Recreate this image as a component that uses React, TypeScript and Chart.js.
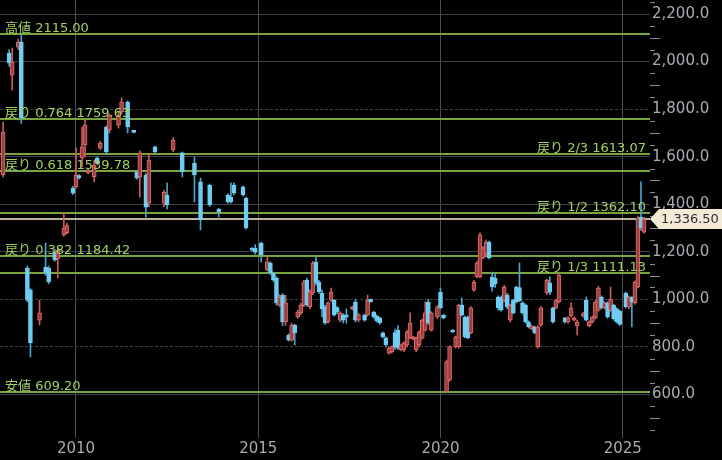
import React, { useEffect, useRef } from "react";
import { Chart, registerables } from "chart.js";

Chart.register(...registerables);

// ---- candle data (month, open, high, low, close) ----
const dates = [
  "2008-01", "2008-03", "2008-04", "2008-06", "2008-07", "2008-09", "2008-10",
  "2009-01", "2009-03", "2009-04", "2009-06", "2009-07", "2009-09", "2009-10", "2009-12",
  "2010-01", "2010-02", "2010-03", "2010-04", "2010-05", "2010-07", "2010-08", "2010-09", "2010-11", "2010-12",
  "2011-03", "2011-04", "2011-06", "2011-08", "2011-09", "2011-10", "2011-12",
  "2012-01", "2012-03", "2012-06", "2012-07", "2012-09", "2012-12",
  "2013-04", "2013-06", "2013-09", "2013-12",
  "2014-03", "2014-04", "2014-05", "2014-08", "2014-09", "2014-11", "2014-12",
  "2015-02", "2015-04", "2015-05", "2015-06", "2015-07", "2015-08", "2015-09", "2015-10", "2015-11", "2015-12",
  "2016-01", "2016-02", "2016-03", "2016-04", "2016-05", "2016-06", "2016-07", "2016-08", "2016-09", "2016-10", "2016-11", "2016-12",
  "2017-01", "2017-02", "2017-03", "2017-04", "2017-05", "2017-06", "2017-08", "2017-09", "2017-10", "2017-12",
  "2018-01", "2018-02", "2018-03", "2018-04", "2018-05", "2018-06", "2018-07", "2018-08", "2018-09", "2018-10", "2018-11", "2018-12",
  "2019-01", "2019-02", "2019-03", "2019-04", "2019-05", "2019-06", "2019-07", "2019-08", "2019-09", "2019-10", "2019-12",
  "2020-01", "2020-02", "2020-03", "2020-04", "2020-05", "2020-06", "2020-07", "2020-08", "2020-09", "2020-10", "2020-11", "2020-12",
  "2021-01", "2021-02", "2021-03", "2021-04", "2021-05", "2021-06", "2021-07", "2021-08", "2021-09", "2021-10", "2021-11", "2021-12",
  "2022-01", "2022-02", "2022-03", "2022-04", "2022-05", "2022-06", "2022-07", "2022-08", "2022-09", "2022-10", "2022-12",
  "2023-01", "2023-02", "2023-03", "2023-04", "2023-06", "2023-07", "2023-08", "2023-09", "2023-10", "2023-12",
  "2024-01", "2024-02", "2024-03", "2024-04", "2024-05", "2024-06", "2024-07", "2024-08", "2024-09", "2024-10", "2024-11", "2024-12",
  "2025-02", "2025-03", "2025-04", "2025-05", "2025-06", "2025-07", "2025-08",
];

const opens = [
  1523, 2036, 1943, 2061, 2082, 1132, 1040,
  913, 1136, 1132, 1199, 1170, 1271, 1280, 1468,
  1473, 1520, 1594, 1649, 1532, 1515, 1594, 1636, 1725, 1712,
  1733, 1788, 1830, 1706, 1536, 1515, 1523,
  1405, 1641, 1405, 1439, 1628, 1616,
  1573, 1494, 1481, 1380,
  1439, 1430, 1481, 1473, 1426, 1212, 1216,
  1237, 1124, 1153, 1111, 1090, 976, 1018, 905, 850, 829,
  892, 926, 943, 976, 1081, 968, 1027, 1157, 1073, 1027, 968, 905,
  997, 997, 966, 913, 934, 935, 960, 989, 913, 934,
  934, 1000, 947, 930, 922, 859, 838, 774, 780, 860, 871, 787,
  787, 808, 838, 834, 787, 808, 838, 871, 989, 871, 926,
  1031, 934, 611, 661, 871, 800, 800, 976, 926, 926, 859, 1039,
  1094, 1094, 1174, 1190, 1241, 1094, 1090, 1010, 1010, 997, 1018, 913,
  997, 1052, 1050, 985, 976, 905, 876, 884, 800, 892, 1027,
  1070, 964, 964, 989, 922, 905, 930, 913, 888, 930,
  997, 888, 905, 922, 955, 1010, 964, 985, 955, 976, 960, 950,
  1027, 968, 1010, 985, 1052, 1346, 1283,
];

const highs = [
  1746, 2050, 2057, 2095, 2115, 1140, 1045,
  997, 1237, 1140, 1210, 1216, 1367, 1320, 1475,
  1637, 1525, 1725, 1754, 1548, 1586, 1600, 1665, 1730, 1780,
  1790, 1847, 1835, 1708, 1540, 1625, 1530,
  1610, 1645, 1460, 1489, 1680, 1620,
  1599, 1510, 1485, 1383,
  1445, 1490, 1490, 1478, 1430, 1218, 1230,
  1241, 1180, 1158, 1115, 1095, 1020, 1025, 1018, 855, 900,
  895, 955, 985, 1080, 1090, 1040, 1160, 1178, 1080, 1040, 975, 990,
  1048, 1000, 970, 948, 940, 960, 972, 1000, 940, 938,
  1018, 1002, 950, 935, 925, 863, 842, 800, 805, 875, 890, 812,
  822, 870, 943, 846, 842, 868, 918, 990, 1000, 948, 975,
  1048, 938, 745, 805, 873, 846, 980, 1006, 930, 930, 970, 1080,
  1160, 1280, 1222, 1250, 1245, 1115, 1110, 1015, 1015, 1060, 1025, 980,
  1000, 1056, 1153, 990, 980, 910, 892, 888, 890, 970, 1085,
  1095, 968, 1000, 1108, 925, 928, 985, 926, 913, 945,
  1010, 910, 930, 995, 1055, 1015, 990, 990, 1052, 980, 965, 955,
  1031, 1015, 1012, 1078, 1350, 1494, 1345,
];

const lows = [
  1515, 1980, 1880, 2050, 1740, 990, 758,
  892, 1100, 1065, 1160, 1090, 1265, 1275, 1440,
  1468, 1505, 1557, 1599, 1528, 1494, 1568, 1630, 1612, 1700,
  1720, 1780, 1700, 1700, 1505, 1430, 1346,
  1390, 1615, 1390, 1380, 1620, 1515,
  1410, 1292, 1390, 1346,
  1405, 1405, 1440, 1435, 1295, 1205, 1190,
  1157, 1120, 1105, 1075, 975, 970, 890, 890, 825, 825,
  808, 920, 935, 970, 970, 960, 1020, 1060, 1025, 926, 895, 900,
  990, 930, 940, 905, 900, 900, 955, 905, 905, 908,
  930, 988, 920, 905, 895, 838, 800, 770, 775, 790, 790, 783,
  780, 800, 835, 830, 780, 800, 832, 866, 895, 866, 920,
  960, 918, 609.2, 655, 860, 795, 795, 930, 838, 834, 855, 1035,
  1090, 1090, 1170, 1185, 1170, 1035, 1050, 955, 950, 990, 960, 905,
  938, 985, 990, 938, 900, 880, 872, 855, 795, 886, 1020,
  1020, 900, 960, 985, 900, 900, 925, 908, 850, 925,
  908, 884, 900, 918, 950, 960, 960, 920, 950, 912, 900, 890,
  964, 960, 884, 980, 1048, 1290, 1278,
];

const closes = [
  1704, 1994, 1998, 2082, 1763, 997, 817,
  943, 1110, 1073, 1166, 1208, 1300, 1310, 1447,
  1523, 1512, 1641, 1733, 1544, 1565, 1573, 1657, 1620, 1775,
  1775, 1830, 1725, 1702, 1511, 1616, 1388,
  1586, 1620, 1451, 1397, 1670, 1536,
  1523, 1334, 1397, 1367,
  1410, 1410, 1447, 1439, 1300, 1207, 1199,
  1187, 1157, 1111, 1081, 985, 1010, 905, 985, 829, 892,
  859, 947, 976, 1073, 976, 1031, 1153, 1069, 1031, 960, 901, 985,
  1031, 934, 947, 943, 913, 925, 968, 913, 934, 913,
  997, 990, 926, 909, 901, 842, 808, 795, 800, 800, 795, 808,
  817, 863, 901, 842, 838, 863, 913, 943, 901, 943, 968,
  964, 922, 737, 800, 863, 842, 976, 934, 842, 838, 964, 1073,
  1153, 1271, 1216, 1241, 1174, 1052, 1065, 964, 955, 1052, 968, 976,
  943, 989, 995, 943, 905, 884, 888, 859, 884, 964, 1081,
  1030, 905, 997, 1102, 905, 922, 964, 922, 905, 940,
  913, 905, 926, 989, 1048, 964, 985, 926, 1001, 918, 905, 895,
  968, 1010, 990, 1073, 1342, 1300, 1336.5,
];

// ---- axis ticks ----
const yearTicks = [2010, 2015, 2020, 2025];
const priceTicks = [600, 800, 1000, 1200, 1400, 1600, 1800, 2000, 2200];
const dashedGridValues = [800, 1000, 1800];

// ---- Fibonacci retracement levels ----
const fibNames = ["高値", "戻り 0.764", "戻り 2/3", "戻り 0.618", "戻り 1/2", "戻り 0.382", "戻り 1/3", "安値"];
const fibValues = [2115.0, 1759.63, 1613.07, 1539.78, 1362.1, 1184.42, 1111.13, 609.2];
const lastPrice = 1336.5;

const FONT = "'DejaVu Sans', 'Noto Sans CJK JP', sans-serif";
const UP_BODY = "#9a4040";
const UP_BORDER = "#e26a6a";
const UP_WICK = "#cc5b5b";
const DOWN_BODY = "#70cdf2";
const DOWN_WICK = "#4aa3cc";
const FIB_LINE = "#77a43d";
const FIB_TEXT = "#a3d062";
const PRICE_LINE = "#bdb19e";
const AXIS_TEXT = "#a8abb1";

function toYear(d: string): number {
  const [y, m] = d.split("-").map(Number);
  return y + (m - 1) / 12;
}

function fmtPrice(v: number, digits: number): string {
  return v.toLocaleString("en-US", { minimumFractionDigits: digits, maximumFractionDigits: digits });
}

function noPad(s: any) {
  s.paddingTop = 0;
  s.paddingBottom = 0;
  s.paddingLeft = 0;
  s.paddingRight = 0;
}

export default function App() {
  const ref = useRef<HTMLCanvasElement>(null);

  useEffect(() => {
    const canvas = ref.current;
    if (!canvas) return;
    const xs = dates.map(toYear);
    const up = closes.map((c, i) => c >= opens[i]);

    const overlay = {
      id: "fibOverlay",
      beforeDatasetsDraw(chart: any) {
        const { ctx, chartArea: a, scales } = chart;
        const y = scales.y;
        ctx.save();
        ctx.beginPath();
        ctx.rect(a.left, a.top, a.right - a.left, a.bottom - a.top);
        ctx.clip();
        ctx.lineWidth = 2;
        ctx.strokeStyle = FIB_LINE;
        fibValues.forEach((v) => {
          const py = Math.round(y.getPixelForValue(v));
          ctx.beginPath();
          ctx.moveTo(a.left, py);
          ctx.lineTo(a.right, py);
          ctx.stroke();
        });
        const pp = Math.round(y.getPixelForValue(lastPrice));
        ctx.strokeStyle = PRICE_LINE;
        ctx.beginPath();
        ctx.moveTo(a.left, pp);
        ctx.lineTo(a.right, pp);
        ctx.stroke();
        ctx.restore();
      },
      afterDatasetsDraw(chart: any) {
        const { ctx, chartArea: a, scales } = chart;
        const y = scales.y;
        ctx.save();
        // fib labels
        ctx.font = `13px ${FONT}`;
        ctx.fillStyle = FIB_TEXT;
        ctx.textBaseline = "alphabetic";
        fibValues.forEach((v, i) => {
          const py = Math.round(y.getPixelForValue(v));
          const text = `${fibNames[i]} ${v.toFixed(2)}`;
          if (fibNames[i].includes("/")) {
            ctx.textAlign = "right";
            ctx.fillText(text, a.right - 4, py - 2);
          } else {
            ctx.textAlign = "left";
            ctx.fillText(text, a.left + 5, py - 2);
          }
        });
        // minor ticks on price axis
        ctx.strokeStyle = "#8a8d94";
        ctx.lineWidth = 1;
        for (let v = 450; v <= 2250; v += 50) {
          if (v % 200 === 0) continue;
          const py = Math.round(y.getPixelForValue(v)) + 0.5;
          if (py < a.top || py > a.bottom) continue;
          const len = v % 100 === 0 ? 10 : 5;
          ctx.beginPath();
          ctx.moveTo(a.right, py);
          ctx.lineTo(a.right + len, py);
          ctx.stroke();
        }
        // last price tag
        const pp = Math.round(y.getPixelForValue(lastPrice));
        const x0 = a.right;
        ctx.fillStyle = "#f2e9d6";
        ctx.beginPath();
        ctx.moveTo(x0, pp);
        ctx.lineTo(x0 + 9, pp - 10);
        ctx.lineTo(chart.width, pp - 10);
        ctx.lineTo(chart.width, pp + 10);
        ctx.lineTo(x0 + 9, pp + 10);
        ctx.closePath();
        ctx.fill();
        ctx.fillStyle = "#2e2e2e";
        ctx.font = `13px ${FONT}`;
        ctx.textAlign = "left";
        ctx.textBaseline = "middle";
        ctx.fillText(fmtPrice(lastPrice, 2), x0 + 11, pp + 1);
        ctx.restore();
      },
    };

    const chart = new Chart(canvas, {
      type: "bar",
      data: {
        datasets: [
          {
            label: "wick",
            data: xs.map((x, i) => ({ x, y: [lows[i], highs[i]] })) as any,
            backgroundColor: up.map((u) => (u ? UP_WICK : DOWN_WICK)),
            borderWidth: 0,
            barThickness: 1,
            grouped: false,
            order: 2,
          } as any,
          {
            label: "body",
            data: xs.map((x, i) => ({ x, y: [opens[i], closes[i]] })) as any,
            backgroundColor: up.map((u) => (u ? UP_BODY : DOWN_BODY)),
            borderColor: up.map((u) => (u ? UP_BORDER : DOWN_BODY)),
            borderWidth: 1,
            borderSkipped: false,
            barThickness: 4,
            minBarLength: 2,
            grouped: false,
            order: 1,
          } as any,
        ],
      },
      options: {
        animation: false,
        responsive: false,
        events: [],
        layout: { padding: 0 },
        plugins: { legend: { display: false }, tooltip: { enabled: false } },
        scales: {
          x: {
            type: "linear",
            min: 2007.915,
            max: 2025.748,
            offset: false,
            grid: { offset: false, color: "#4a4f5b", lineWidth: 1, drawTicks: false },
            border: { display: false },
            afterBuildTicks: (s: any) => {
              s.ticks = yearTicks.map((v) => ({ value: v }));
            },
            afterFit: (s: any) => {
              s.height = 22;
              noPad(s);
            },
            ticks: {
              autoSkip: false,
              maxRotation: 0,
              padding: 2,
              color: AXIS_TEXT,
              font: { family: FONT, size: 15 },
              callback: (v: any) => String(v),
            },
          },
          y: {
            type: "linear",
            position: "right",
            min: 417.1,
            max: 2258.9,
            grid: { color: "#3b404b", lineWidth: 1, drawTicks: false },
            border: {
              display: false,
              dash: (ctx: any) => (ctx.tick && dashedGridValues.includes(ctx.tick.value) ? [3, 2] : []),
            } as any,
            afterBuildTicks: (s: any) => {
              s.ticks = priceTicks.map((v) => ({ value: v }));
            },
            afterFit: (s: any) => {
              s.width = 72;
              noPad(s);
            },
            ticks: {
              padding: 2,
              color: AXIS_TEXT,
              font: { family: FONT, size: 15 },
              callback: (v: any) => fmtPrice(Number(v), 1),
            },
          },
        },
      } as any,
      plugins: [overlay],
    });
    return () => chart.destroy();
  }, []);

  return (
    <div style={{ position: "fixed", left: 0, top: 0, width: 722, height: 460, background: "#000" }}>
      <canvas ref={ref} width={722} height={460} style={{ display: "block" }} />
    </div>
  );
}
